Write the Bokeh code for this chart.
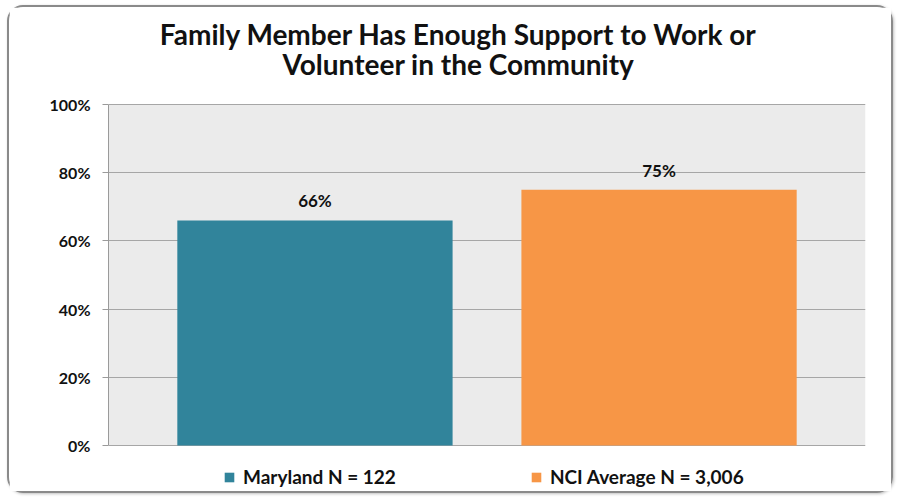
from bokeh.plotting import figure
from bokeh.models import (ColumnDataSource, FactorRange, Range1d, FixedTicker,
                          PrintfTickFormatter, LabelSet, Label, Legend, LegendItem,
                          BoxAnnotation)
from bokeh.core.properties import value
from bokeh.embed import file_html
from bokeh.resources import INLINE

categories = ["Maryland", "NCI Average"]
values = [66, 75]
value_labels = ["66%", "75%"]
legend_labels = ["Maryland N = 122", "NCI Average N = 3,006"]
colors = ["#31849B", "#F79646"]
y_ticks = [0, 20, 40, 60, 80, 100]
title_lines = ["Family Member Has Enough Support to Work or",
               "Volunteer in the Community"]

FONT = "Lato"
Y_MIN, Y_MAX = 0, 100
# the frame covers the whole card: white margins above 100% (title) and below 0% (legend)
Y_FLOOR, Y_CEIL = -14.08, 127.86

src = ColumnDataSource(dict(cat=categories, val=values, lab=value_labels, col=colors))

p = figure(width=886, height=488, output_backend="svg", toolbar_location=None, title=None,
           x_range=FactorRange(*categories, range_padding=0.1), y_range=Range1d(Y_FLOOR, Y_CEIL),
           min_border_left=99, min_border_right=30, min_border_top=2, min_border_bottom=2,
           background_fill_color="white", border_fill_color="white")
p.outline_line_color = None
p.styles = {"border": "2px solid #8a8a8a", "border-radius": "16px",
            "margin-left": "7px", "margin-top": "5px",
            "box-shadow": "1px 1px 3px rgba(0,0,0,0.25)"}

# grey plotting area between 0% and 100%
p.add_layout(BoxAnnotation(bottom=Y_MIN, top=Y_MAX, fill_color="#EBEBEB", fill_alpha=1,
                           line_color=None, level="image"))

r_md = p.vbar(x=[categories[0]], top=[values[0]], width=0.8, fill_color=colors[0], line_color=None)
r_nci = p.vbar(x=[categories[1]], top=[values[1]], width=0.8, fill_color=colors[1], line_color=None)

labels = LabelSet(x="cat", y="val", text="lab", source=src, text_align="center",
                  text_baseline="bottom", y_offset=9, text_font=value(FONT),
                  text_font_style="bold", text_font_size="17px", text_color="#111111")
p.add_layout(labels)

# axes
p.yaxis.ticker = FixedTicker(ticks=y_ticks)
p.yaxis.bounds = (Y_MIN, Y_MAX)
p.yaxis.formatter = PrintfTickFormatter(format="%d%%")
p.yaxis.major_label_text_font = FONT
p.yaxis.major_label_text_font_style = "bold"
p.yaxis.major_label_text_font_size = "16px"
p.yaxis.major_label_text_color = "#111111"
p.yaxis.axis_line_color = "#9A9A9A"
p.yaxis.major_tick_line_color = "#9A9A9A"
p.yaxis.major_tick_out = 6
p.yaxis.major_tick_in = 0
p.yaxis.minor_tick_line_color = None
p.yaxis.major_label_standoff = 12

p.xaxis.visible = False

p.xgrid.grid_line_color = None
p.ygrid.grid_line_color = "#A6A6A6"
p.ygrid.grid_line_width = 1

# title, two centred lines (screen units from the frame's bottom-left corner)
for i, t in enumerate(title_lines):
    p.add_layout(Label(x=350, y=460 - 30 * i, x_units="screen", y_units="screen", text=t,
                       text_align="center", text_baseline="middle", text_font=FONT,
                       text_font_style="bold", text_font_size="28px", text_color="#111111"))

legend = Legend(items=[LegendItem(label=legend_labels[0], renderers=[r_md]),
                       LegendItem(label=legend_labels[1], renderers=[r_nci])],
                orientation="horizontal", location=(115, 5), spacing=134,
                glyph_width=12, glyph_height=12, label_standoff=8,
                label_text_font=FONT, label_text_font_style="bold",
                label_text_font_size="19px", label_text_color="#111111",
                border_line_color=None, background_fill_alpha=0, padding=4, margin=0)
p.add_layout(legend, "center")

open("out.html", "w").write(file_html(p, INLINE))
